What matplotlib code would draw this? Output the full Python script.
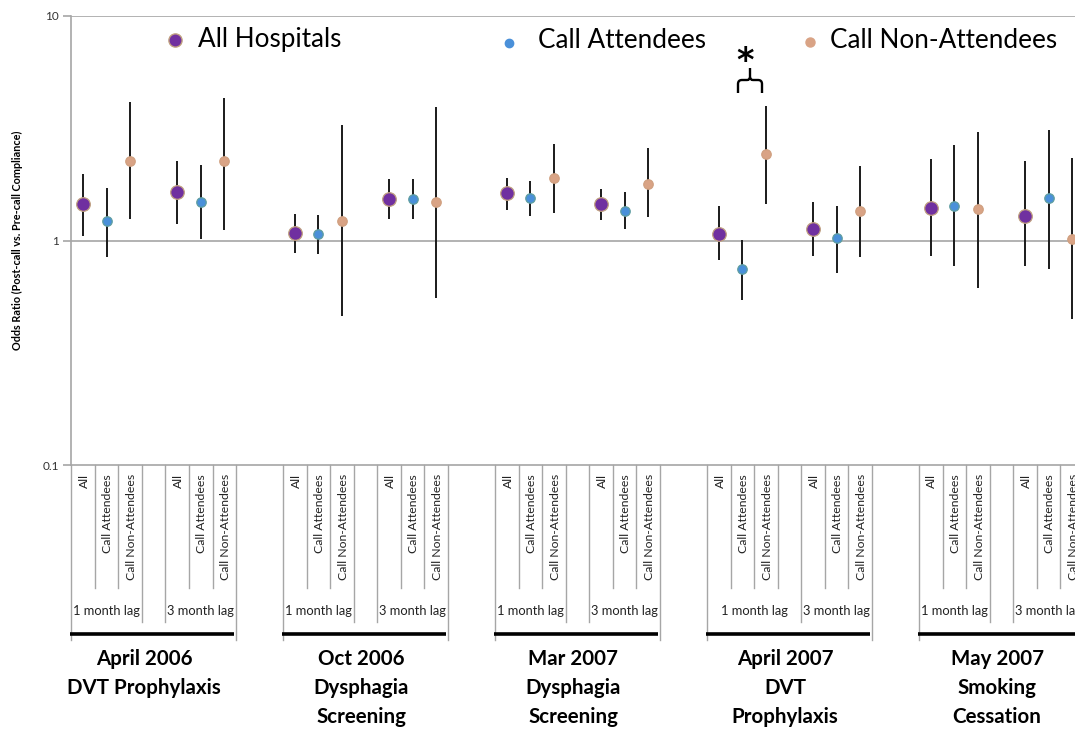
import matplotlib
matplotlib.use("Agg")
import matplotlib.pyplot as plt
from matplotlib.lines import Line2D
from matplotlib.path import Path
from matplotlib.patches import PathPatch
from matplotlib.ticker import FixedLocator, FixedFormatter, NullLocator
import numpy as np

plt.rcParams['font.family'] = ['Lato', 'DejaVu Sans']

# ---------------- data ----------------
studies = ["April 2006\nDVT Prophylaxis", "Oct 2006\nDysphagia\nScreening",
           "Mar 2007\nDysphagia\nScreening", "April 2007\nDVT\nProphylaxis",
           "May 2007\nSmoking\nCessation"]
lags = ["1 month lag", "3 month lag"]
categories = ["All", "Call Attendees", "Call Non-Attendees"]
series_names = ["All Hospitals", "Call Attendees", "Call Non-Attendees"]

# order: study1 1mo, study1 3mo, study2 1mo, ...
all_or = [1.45, 1.65, 1.08, 1.53, 1.62, 1.45, 1.07, 1.13, 1.39, 1.29]
all_lo = [1.05, 1.19, 0.88, 1.25, 1.37, 1.23, 0.815, 0.85, 0.85, 0.77]
all_hi = [1.97, 2.27, 1.31, 1.87, 1.89, 1.70, 1.43, 1.48, 2.30, 2.25]

att_or = [1.22, 1.48, 1.07, 1.53, 1.54, 1.36, 0.743, 1.03, 1.42, 1.54]
att_lo = [0.84, 1.02, 0.875, 1.25, 1.29, 1.12, 0.546, 0.713, 0.766, 0.75]
att_hi = [1.72, 2.16, 1.30, 1.87, 1.85, 1.64, 1.01, 1.43, 2.65, 3.12]

non_or = [2.27, 2.25, 1.22, 1.48, 1.89, 1.79, 2.42, 1.36, 1.375, 1.02]
non_lo = [1.25, 1.11, 0.463, 0.557, 1.33, 1.27, 1.45, 0.84, 0.617, 0.445]
non_hi = [4.16, 4.33, 3.28, 3.92, 2.70, 2.57, 3.99, 2.14, 3.03, 2.34]

yticks = [0.1, 1, 10]
ytick_labels = ["0.1", "1", "10"]

# ---------------- layout helpers ----------------
W, H = 1075, 730
fig = plt.figure(figsize=(W / 100, H / 100), dpi=100)
ax_left_px, ax_top_px, ax_bot_px = 71.2, 16, 465
slot_px = 23.55
ax = fig.add_axes([ax_left_px / W, 1 - ax_bot_px / H, 1 - ax_left_px / W,
                   (ax_bot_px - ax_top_px) / H])
xr = -0.5 + (W - ax_left_px) / slot_px
ax.set_xlim(-0.5, xr)
ax.set_yscale('log')
ax.set_ylim(0.1, 10)

def ay(py):
    return (ax_bot_px - py) / (ax_bot_px - ax_top_px)

def fy(py):
    return 1 - py / H

def fx(px):
    return px / W

grid_c = '#A6A6A6'
for v in [1, 10]:
    ax.axhline(v, color=grid_c, lw=1.2, zorder=1)
for s in ['top', 'right']:
    ax.spines[s].set_visible(False)
ax.spines['left'].set_color(grid_c)
ax.spines['bottom'].set_color(grid_c)
ax.spines['left'].set_linewidth(1.2)
ax.spines['bottom'].set_linewidth(1.2)
ax.yaxis.set_major_locator(FixedLocator(yticks))
ax.yaxis.set_major_formatter(FixedFormatter(ytick_labels))
ax.yaxis.set_minor_locator(NullLocator())
ax.tick_params(axis='y', which='major', length=6, width=1.2, color=grid_c,
               labelsize=8.5, labelcolor='#333333', pad=3)
ax.set_xticks([])
fig.text(fx(17), fy(240), "Odds Ratio (Post-call vs. Pre-call Compliance)",
         rotation=90, ha='center', va='center', fontsize=7.8, fontweight='bold')

# ---------------- points ----------------
colors = ['#7030A0', '#4A90D9', '#D9A385']
edges = ['#C0A080', '#5F9EA0', '#D0A080']
msizes = [9.8, 6.8, 6.8]
series = [(all_or, all_lo, all_hi), (att_or, att_lo, att_hi), (non_or, non_lo, non_hi)]
for k, (orv, lo, hi) in enumerate(series):
    xs = []
    for i in range(len(studies)):
        for j in range(len(lags)):
            xs.append(9 * i + 4 * j + k)
    xs = np.array(xs, dtype=float)
    orv = np.array(orv); lo = np.array(lo); hi = np.array(hi)
    ax.vlines(xs, lo, hi, color='#1a1a1a', lw=1.4, zorder=3)
    ax.plot(xs, orv, 'o', ms=msizes[k], color=colors[k], mec=edges[k], mew=0.9,
            zorder=4, clip_on=True)

# ---------------- category axis below ----------------
xt = ax.get_xaxis_transform()
line_c = '#A6A6A6'
def vline(x, py_end):
    ax.add_line(Line2D([x, x], [ay(ax_bot_px), ay(py_end)], transform=xt,
                       color=line_c, lw=1.0, clip_on=False))

for i, st in enumerate(studies):
    s = 9 * i
    vline(s - 0.5, 640)
    vline(s + 6.5, 640)
    for d in [0.5, 1.5, 4.5, 5.5]:
        vline(s + d, 588)
    if i == 3:
        vline(s + 2.5, 588)
    else:
        vline(s + 2.5, 622)
    vline(s + 3.5, 622)
    for j, lag in enumerate(lags):
        for k, cat in enumerate(categories):
            ax.text(s + 4 * j + k + 0.05, ay(474), cat, transform=xt, rotation=90,
                    ha='center', va='top', fontsize=8.8, color='#222222', clip_on=False)
        cx = s + 4 * j + 1
        if i == 3 and j == 0:
            cx = s + 1.5
        ax.text(cx, ay(611), lag, transform=xt, ha='center', va='center',
                fontsize=9.3, color='#222222', clip_on=False)
    # thick black group line
    ax.add_line(Line2D([s - 0.55, s + 6.4], [ay(634), ay(634)], transform=xt,
                       color='black', lw=2.6, clip_on=False, solid_capstyle='butt'))
    lbl_x = s + 3 - (0.4 if i == 0 else 0.18)
    ax.text(lbl_x, ay(649), st, transform=xt, ha='center', va='top',
            fontsize=14.8, fontweight='bold', linespacing=1.55, clip_on=False)

# ---------------- significance bracket (curly brace) ----------------
def P(px, py):
    return (fx(px), fy(py))
verts = [P(738, 93), P(738, 84), P(738, 80), P(742, 80), P(747, 80),
         P(750, 80), P(750, 77), P(750, 68),
         P(750, 77), P(750, 80), P(753, 80), P(758, 80), P(762, 80), P(762, 84),
         P(762, 93)]
codes = [Path.MOVETO, Path.LINETO, Path.CURVE3, Path.CURVE3, Path.LINETO,
         Path.CURVE3, Path.CURVE3, Path.LINETO,
         Path.MOVETO, Path.CURVE3, Path.CURVE3, Path.LINETO, Path.CURVE3, Path.CURVE3,
         Path.LINETO]
fig.add_artist(PathPatch(Path(verts, codes), transform=fig.transFigure,
                         facecolor='none', edgecolor='black', lw=1.7))
fig.text(fx(745), fy(61), "*", ha='center', va='center', fontsize=24,
         fontweight='bold', family=['DejaVu Sans'])

# ---------------- legend ----------------
leg_items = [(175, 40, 198, colors[0], edges[0], 9.5),
             (509, 43, 538, colors[1], colors[1], 6.0),
             (810, 42, 830, colors[2], colors[2], 6.5)]
for (mx, my, tx, c, ec, ms), name in zip(leg_items, series_names):
    fig.add_artist(Line2D([fx(mx)], [fy(my)], marker='o', ms=ms, color=c, mec=ec,
                          transform=fig.transFigure, linestyle='none'))
    fig.text(fx(tx), fy(40), name, ha='left', va='center', fontsize=18.8,
             color='black')

fig.savefig("out.png", dpi=100)
